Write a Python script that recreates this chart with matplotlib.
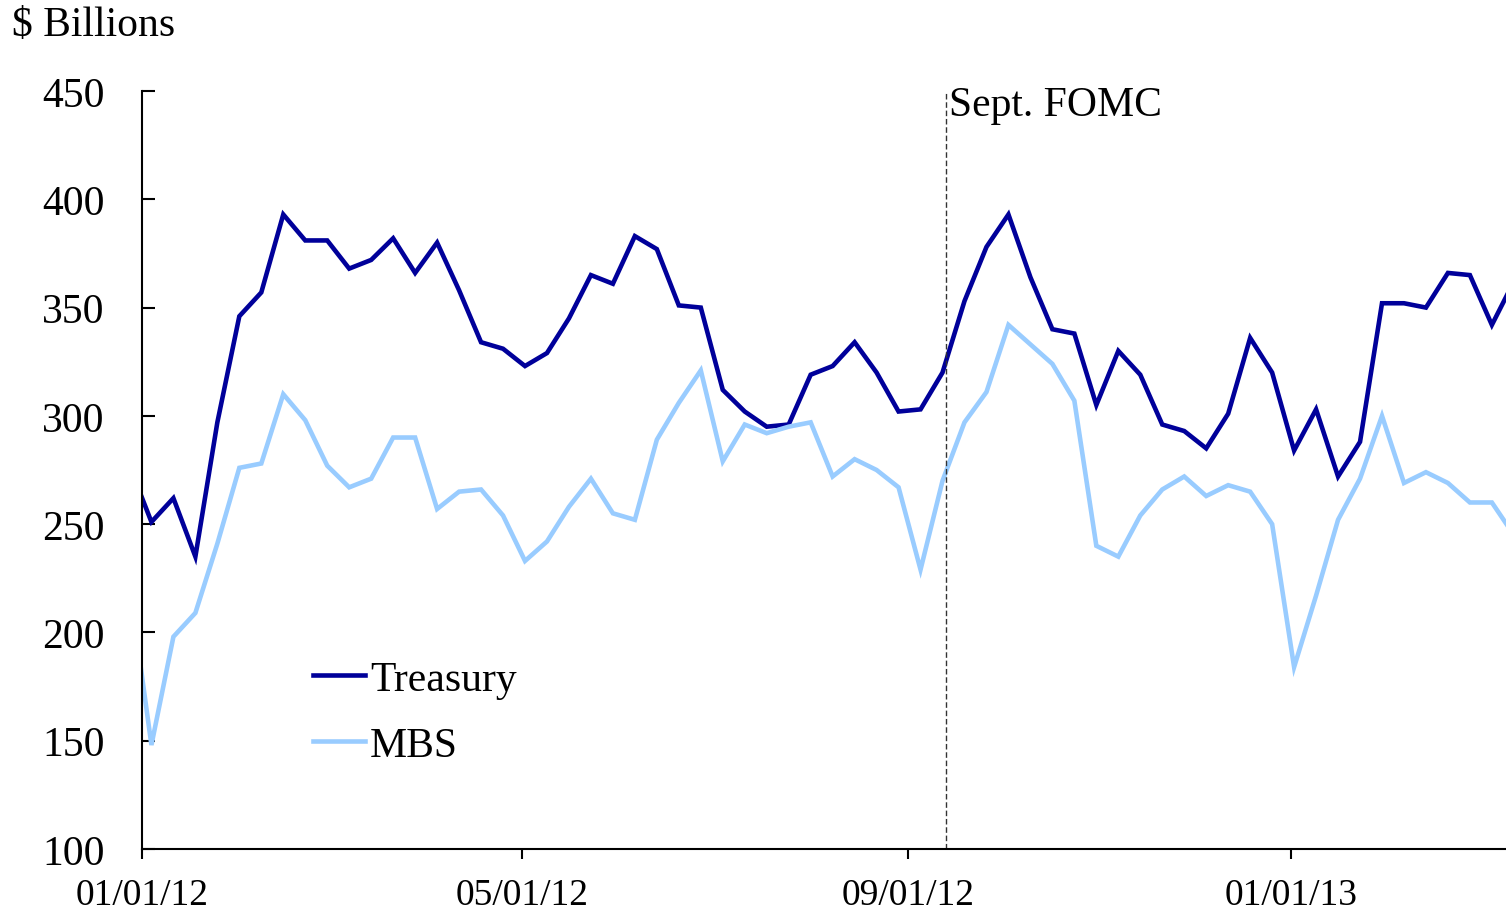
import datetime as dt
import matplotlib
matplotlib.use("Agg")
import matplotlib.pyplot as plt
import matplotlib.dates as mdates

# weekly values, Wednesdays from 12/28/11 through 03/13/13
start = dt.date(2011, 12, 28)
treasury = [277, 251, 262, 235, 297, 346, 357, 393, 381, 381, 368, 372, 382, 366,
            380, 358, 334, 331, 323, 329, 345, 365, 361, 383, 377, 351, 350, 312,
            302, 295, 296, 319, 323, 334, 320, 302, 303, 320, 353, 378, 393, 364,
            340, 338, 305, 330, 319, 296, 293, 285, 301, 336, 320, 284, 303, 272,
            288, 352, 352, 350, 366, 365, 342, 362]
mbs = [222, 148, 198, 209, 241, 276, 278, 310, 298, 277, 267, 271, 290, 290,
       257, 265, 266, 254, 233, 242, 258, 271, 255, 252, 289, 306, 321, 279,
       296, 292, 295, 297, 272, 280, 275, 267, 229, 270, 297, 311, 342, 333,
       324, 307, 240, 235, 254, 266, 272, 263, 268, 265, 250, 184, 217, 252,
       271, 300, 269, 274, 269, 260, 260, 245]
dates = [start + dt.timedelta(weeks=i) for i in range(len(treasury))]

fomc_date = dt.date(2012, 9, 13)
xticks = [dt.date(2012, 1, 1), dt.date(2012, 5, 1), dt.date(2012, 9, 1), dt.date(2013, 1, 1)]
yticks = [100, 150, 200, 250, 300, 350, 400, 450]

plt.rcParams['font.family'] = ['Liberation Serif', 'DejaVu Serif']

fig = plt.figure(figsize=(15.06, 9.12), dpi=100)
ax = fig.add_axes([0.0943, 0.068, 0.9057, 0.8311])

ax.plot(dates, treasury, color="#00009A", lw=3.3, label="Treasury", solid_joinstyle="miter")
ax.plot(dates, mbs, color="#99CCFF", lw=3.3, label="MBS", solid_joinstyle="miter")

ax.axvline(fomc_date, color="#333333", lw=1, ls=(0, (4, 2)))
ax.text(fomc_date + dt.timedelta(days=1), 443.5, "Sept. FOMC", fontsize=30,
        ha="left", va="center")

ax.set_xlim(dt.datetime(2012, 1, 1), dt.datetime(2013, 3, 10, 12))
ax.set_ylim(100, 450)
ax.set_xticks(xticks)
ax.xaxis.set_major_formatter(mdates.DateFormatter("%m/%d/%y"))
ax.set_yticks(yticks)

ax.spines["top"].set_visible(False)
ax.spines["right"].set_visible(False)
for s in ["left", "bottom"]:
    ax.spines[s].set_linewidth(1.5)

ax.tick_params(axis="y", direction="in", length=9, width=1.5, pad=27, labelsize=30)
ax.tick_params(axis="x", direction="out", length=7, width=1.5, pad=13.5, labelsize=27)

fig.text(0.008, 0.9715, "$ Billions", fontsize=30, ha="left", va="center")

ax.legend(loc="center left", bbox_to_anchor=(0.1254, 0.18), frameon=False,
          fontsize=30, handlelength=1.25, handletextpad=0.12, borderpad=0,
          borderaxespad=0, labelspacing=0.65)

fig.savefig("out.png", dpi=100)
